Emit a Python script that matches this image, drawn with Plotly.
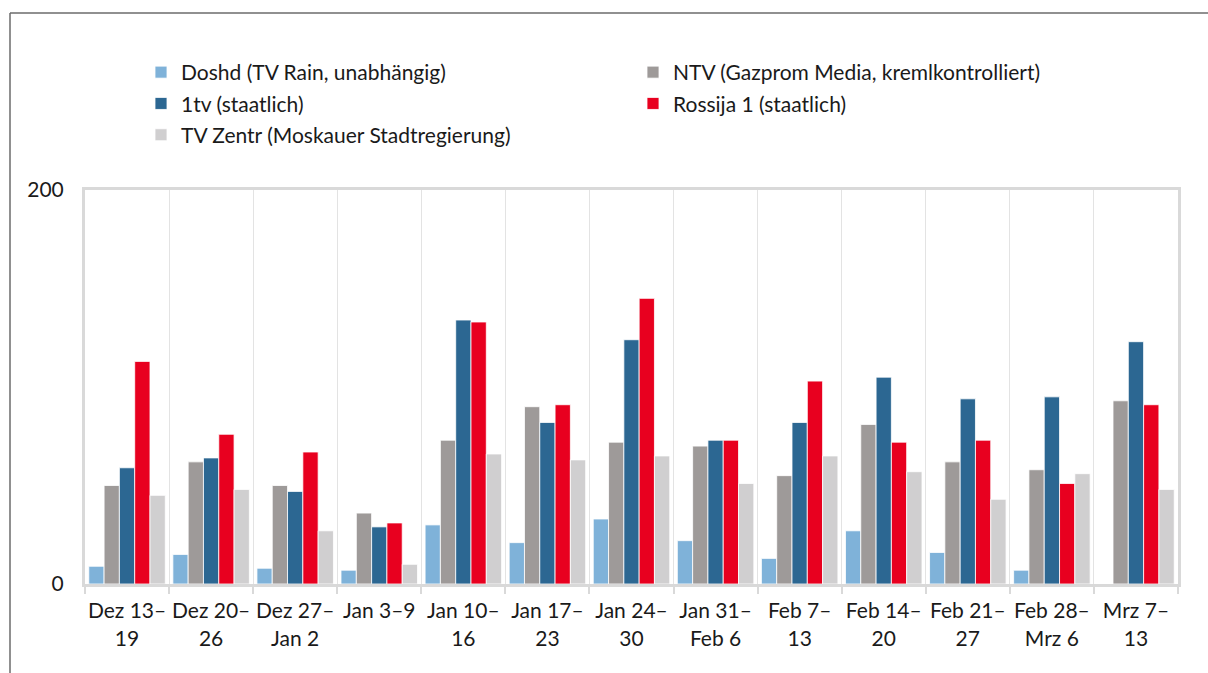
import plotly.graph_objects as go

categories = ["Dez 13–<br>19", "Dez 20–<br>26", "Dez 27–<br>Jan 2", "Jan 3–9", "Jan 10–<br>16",
              "Jan 17–<br>23", "Jan 24–<br>30", "Jan 31–<br>Feb 6", "Feb 7–<br>13", "Feb 14–<br>20",
              "Feb 21–<br>27", "Feb 28–<br>Mrz 6", "Mrz 7–<br>13"]

doshd = [9, 15, 8, 7, 30, 21, 33, 22, 13, 27, 16, 7, 0]
ntv = [50, 62, 50, 36, 73, 90, 72, 70, 55, 81, 62, 58, 93]
tv1 = [59, 64, 47, 29, 134, 82, 124, 73, 82, 105, 94, 95, 123]
rossija = [113, 76, 67, 31, 133, 91, 145, 73, 103, 72, 73, 51, 91]
zentr = [45, 48, 27, 10, 66, 63, 65, 51, 65, 57, 43, 56, 48]

series = [
    ("Doshd (TV Rain, unabhängig)", doshd, "#7fb2d9", "legend"),
    ("NTV (Gazprom Media, kremlkontrolliert)", ntv, "#9e9a99", "legend2"),
    ("1tv (staatlich)", tv1, "#2c6792", "legend"),
    ("Rossija 1 (staatlich)", rossija, "#e8001f", "legend2"),
    ("TV Zentr (Moskauer Stadtregierung)", zentr, "#d0cfd0", "legend"),
]

FONT = "Lato, 'Open Sans', sans-serif"

fig = go.Figure()
for i, (name, vals, color, leg) in enumerate(series):
    fig.add_trace(go.Bar(
        x=categories, y=vals, name=name, legend=leg, legendgroup=f"g{i}",
        marker=dict(color=color, line=dict(color="rgba(255,255,255,0.8)", width=1)),
    ))

legend_common = dict(
    orientation="v", bgcolor="rgba(0,0,0,0)",
    font=dict(family=FONT, size=21, color="#1a1a1a"),
    tracegroupgap=1, itemwidth=30,
    xanchor="left", yanchor="top", yref="paper",
)

fig.update_layout(
    width=1208, height=673,
    margin=dict(l=85, r=30, t=190, b=89, autoexpand=False),
    paper_bgcolor="white", plot_bgcolor="white",
    barmode="group", bargap=0.09, bargroupgap=0,
    font=dict(family=FONT, size=21, color="#1a1a1a"),
    legend=dict(**legend_common, x=(141 - 85) / 1093, y=(584 - 52) / 394),
    legend2=dict(**legend_common, x=(633 - 85) / 1093, y=(584 - 52) / 394),
    xaxis=dict(
        type="category", tickson="boundaries", showgrid=True, gridcolor="#e3e3e3", gridwidth=1,
        showline=True, linecolor="#d9d9d9", linewidth=3, mirror=True,
        ticks="outside", ticklen=7, tickcolor="#d9d9d9", tickwidth=2,
        ticklabelstandoff=6, tickangle=0, automargin=False,
        tickfont=dict(family=FONT, size=21, color="#1a1a1a"),
        fixedrange=True,
    ),
    yaxis=dict(
        range=[0, 200], tickvals=[0, 200], showgrid=False, zeroline=False,
        showline=True, linecolor="#d9d9d9", linewidth=3, mirror=True,
        ticks="", ticklabelstandoff=14, automargin=False,
        tickfont=dict(family=FONT, size=21, color="#1a1a1a"),
        fixedrange=True,
    ),
    shapes=[
        dict(type="line", xref="paper", yref="paper",
             x0=(10 - 85) / 1093, x1=(10 - 85) / 1093, y0=(584 - 700) / 394, y1=(584 - 13) / 394,
             line=dict(color="#6b6b6b", width=1.5)),
        dict(type="line", xref="paper", yref="paper",
             x0=(10 - 85) / 1093, x1=(1220 - 85) / 1093, y0=(584 - 13) / 394, y1=(584 - 13) / 394,
             line=dict(color="#6b6b6b", width=1.5)),
    ],
)

fig.write_html("out.html", config={"displayModeBar": False},
               post_script="document.body.style.margin='0';document.body.style.overflow='hidden';")
